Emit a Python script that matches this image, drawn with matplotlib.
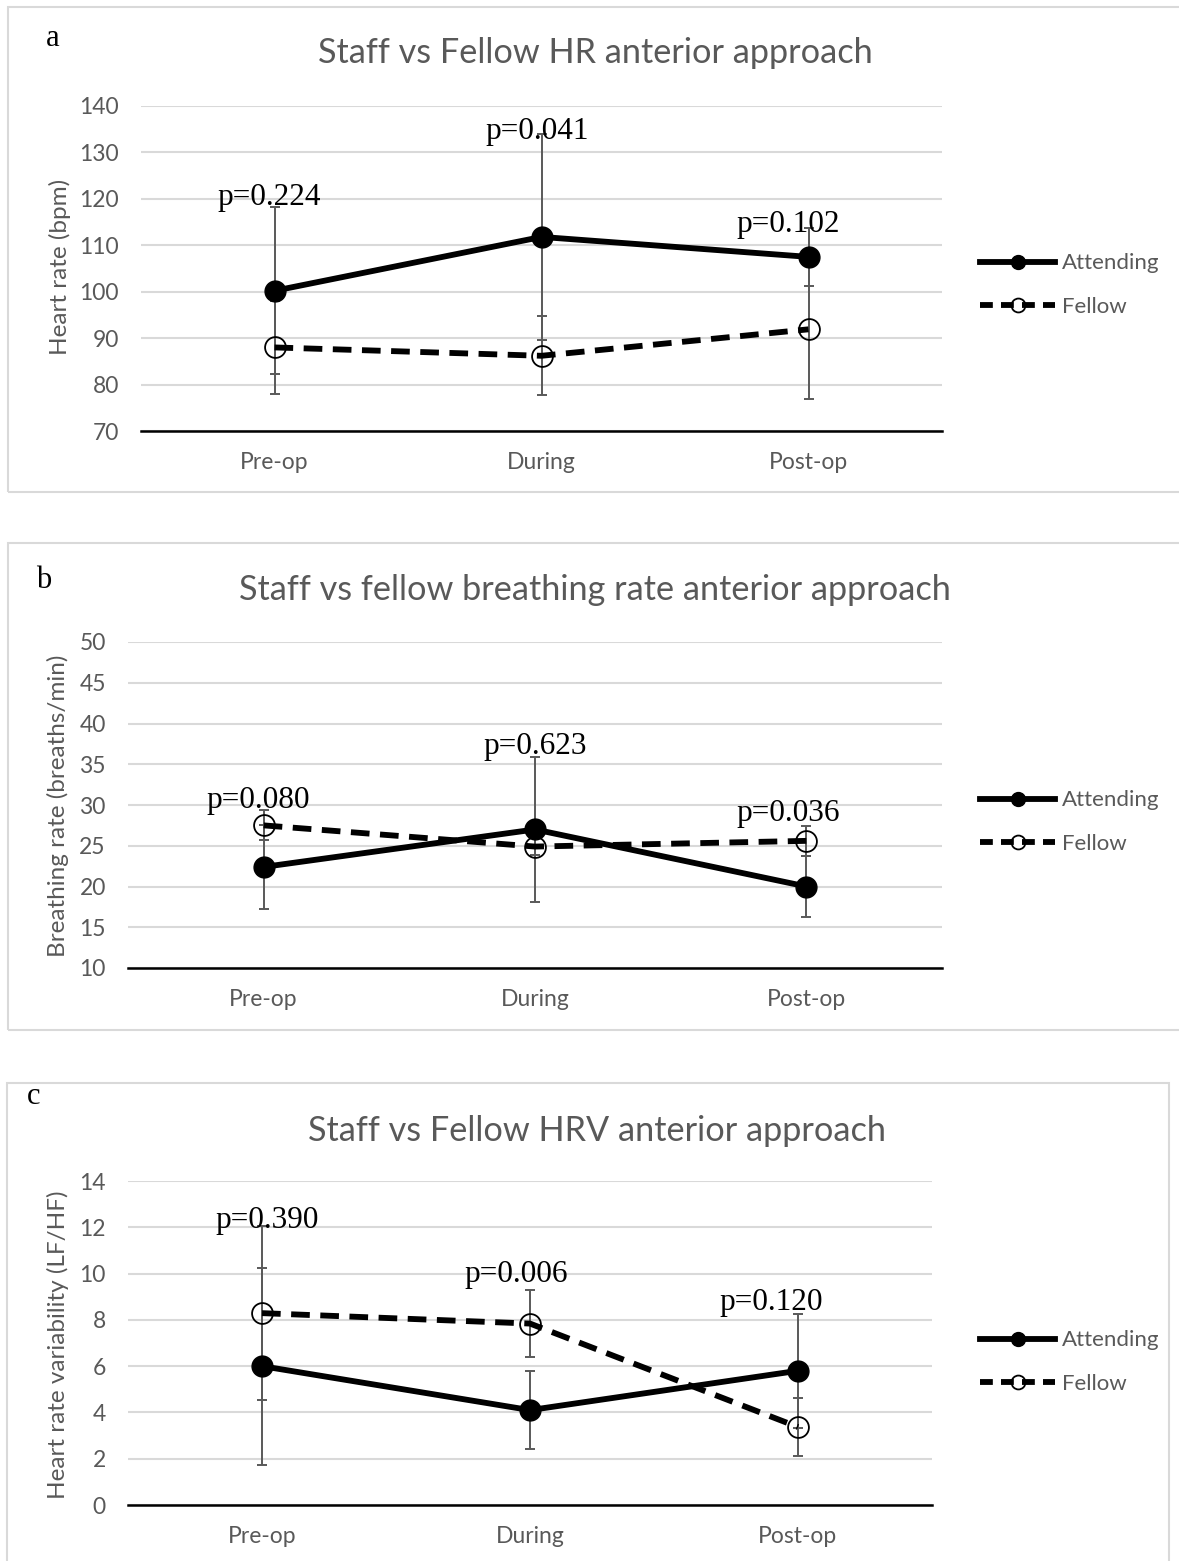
import matplotlib.pyplot as plt
from matplotlib.lines import Line2D
from matplotlib.patches import Rectangle

# ---- data ----
phases = ["Pre-op", "During", "Post-op"]

hr_attending = [100.2, 111.8, 107.5]
hr_attending_sd = [18.0, 22.2, 6.3]
hr_fellow = [88.0, 86.2, 91.9]
hr_fellow_sd = [10.0, 8.5, 15.0]
hr_pvals = ["p=0.224", "p=0.041", "p=0.102"]

br_attending = [22.4, 27.0, 20.0]
br_attending_sd = [5.1, 8.9, 3.8]
br_fellow = [27.5, 24.9, 25.6]
br_fellow_sd = [1.85, 1.0, 1.8]
br_pvals = ["p=0.080", "p=0.623", "p=0.036"]

hrv_attending = [6.0, 4.1, 5.8]
hrv_attending_sd = [4.26, 1.7, 2.46]
hrv_fellow = [8.29, 7.84, 3.37]
hrv_fellow_sd = [3.77, 1.45, 1.25]
hrv_pvals = ["p=0.390", "p=0.006", "p=0.120"]

GREY = "#595959"
GRID = "#d9d9d9"
SANS = ["Lato", "DejaVu Sans"]
SERIF = ["Liberation Serif", "DejaVu Serif"]

W, H = 1179, 1561
fig = plt.figure(figsize=(W / 100, H / 100), dpi=100)


def fx(px):
    return px / W


def fy(py):
    return 1 - py / H


def panel(rect, box, letter, letter_xy, title, title_xy, ylabel, ylabel_xy,
          ylim, yticks, att, att_sd, fel, fel_sd, pvals, p_pos, legend_y):
    # light grey frame round the panel
    x0, y0, x1, y1 = box
    fig.patches.append(Rectangle((fx(x0), fy(y1)), fx(x1 - x0), (y1 - y0) / H,
                                 transform=fig.transFigure, fill=False,
                                 edgecolor=GRID, linewidth=1.5, zorder=0))
    ax = fig.add_axes(rect)
    xs = list(range(len(phases)))

    ax.errorbar(xs, att, yerr=att_sd, fmt="none", ecolor=GREY, elinewidth=1.4,
                capsize=3.5, capthick=1.4, zorder=2)
    ax.errorbar(xs, fel, yerr=fel_sd, fmt="none", ecolor=GREY, elinewidth=1.4,
                capsize=3.5, capthick=1.4, zorder=2)
    ax.plot(xs, att, color="black", lw=4.2, marker="o", markersize=15,
            markerfacecolor="black", zorder=3)
    ax.plot(xs, fel, color="black", lw=4.2, ls=(0, (3.2, 1.8)), marker="o",
            markersize=15, markerfacecolor="none", markeredgewidth=1.3,
            zorder=3)

    for i, (lab, (dx, yy)) in enumerate(zip(pvals, p_pos)):
        ax.text(i + dx, yy, lab, ha="center", va="center", fontsize=22.5,
                family=SERIF, color="black", zorder=4)

    ax.set_xlim(-0.5, len(phases) - 0.5)
    ax.set_ylim(*ylim)
    ax.set_yticks(yticks)
    ax.set_xticks(xs)
    ax.set_xticklabels(phases)
    ax.grid(axis="y", color=GRID, lw=1.5)
    ax.set_axisbelow(True)
    for s in ["top", "right", "left"]:
        ax.spines[s].set_visible(False)
    ax.spines["bottom"].set_linewidth(1.8)
    ax.spines["bottom"].set_zorder(1)
    ax.tick_params(length=0, labelsize=16.5, labelcolor=GREY)
    ax.tick_params(axis="y", pad=16)
    ax.tick_params(axis="x", pad=15)
    for t in ax.get_xticklabels() + ax.get_yticklabels():
        t.set_family(SANS)

    fig.text(fx(ylabel_xy[0]), fy(ylabel_xy[1]), ylabel, rotation=90,
             ha="center", va="center", fontsize=17.5, color=GREY, family=SANS)
    fig.text(fx(title_xy[0]), fy(title_xy[1]), title, ha="center", va="center",
             fontsize=24.7, color=GREY, family=SANS)
    fig.text(fx(letter_xy[0]), fy(letter_xy[1]), letter, ha="center",
             va="center", fontsize=22, color="black", family=SERIF)

    handles = [
        Line2D([], [], color="black", lw=4.2, marker="o", markersize=10,
               markerfacecolor="black"),
        Line2D([], [], color="black", lw=4.2, ls=(0, (2.2, 1.4)), marker="o",
               markersize=10, markerfacecolor="none", markeredgewidth=1.3),
    ]
    leg = fig.legend(handles, ["Attending", "Fellow"], loc="center left",
                     bbox_to_anchor=(fx(971), fy(legend_y)), frameon=False,
                     fontsize=16, handlelength=3.4, handletextpad=0.3,
                     labelspacing=1.05, borderaxespad=0)
    for t in leg.get_texts():
        t.set_color(GREY)
        t.set_family(SANS)
    return ax


panel([fx(141), fy(431), fx(801), (431 - 106) / H], (8, 7, 1185, 492),
      "a", (53, 38), "Staff vs Fellow HR anterior approach", (595, 53),
      "Heart rate (bpm)", (60, 267), (70, 140), range(70, 141, 10),
      hr_attending, hr_attending_sd, hr_fellow, hr_fellow_sd, hr_pvals,
      [(-0.02, 120.4), (-0.015, 134.4), (-0.075, 114.4)], 285)

panel([fx(128), fy(968), fx(814), (968 - 642) / H], (8, 543, 1185, 1030),
      "b", (44, 581), "Staff vs fellow breathing rate anterior approach",
      (595, 590), "Breathing rate (breaths/min)", (58, 806), (10, 50),
      range(10, 51, 5), br_attending, br_attending_sd, br_fellow, br_fellow_sd,
      br_pvals, [(-0.02, 30.6), (0.0, 37.2), (-0.066, 29.0)], 822)

panel([fx(128), fy(1505), fx(804), (1505 - 1181) / H], (7, 1083, 1169, 1575),
      "c", (34, 1096), "Staff vs Fellow HRV anterior approach", (597, 1131),
      "Heart rate variability (LF/HF)", (58, 1345), (0, 14), range(0, 15, 2),
      hrv_attending, hrv_attending_sd, hrv_fellow, hrv_fellow_sd, hrv_pvals,
      [(0.02, 12.31), (-0.05, 9.98), (-0.1, 8.73)], 1362)

fig.savefig("out.png", dpi=100)
